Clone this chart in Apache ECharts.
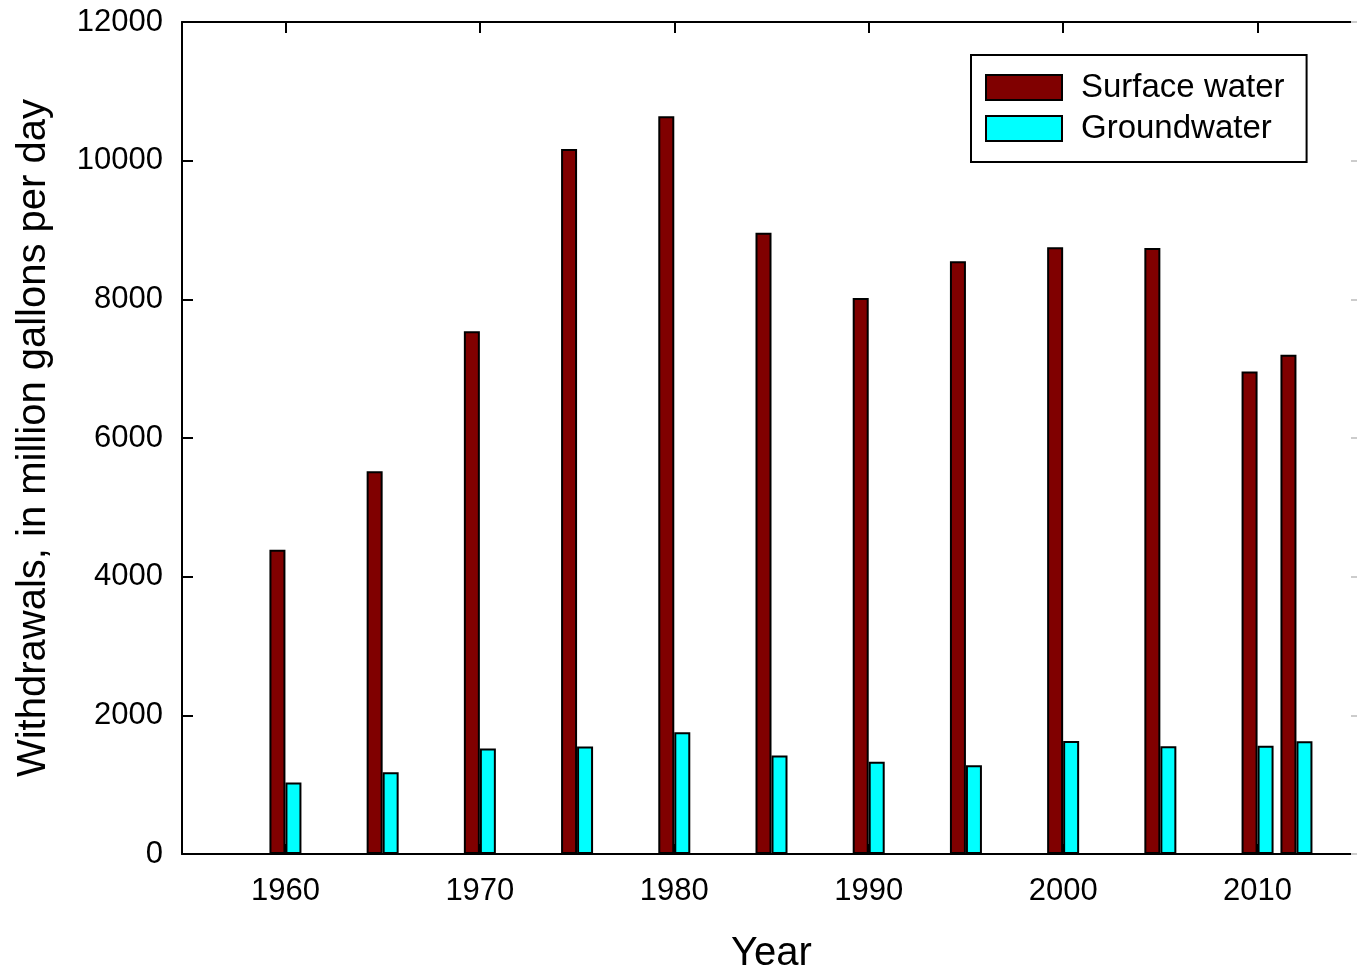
<!DOCTYPE html>
<html><head><meta charset="utf-8">
<script src="https://cdn.jsdelivr.net/npm/echarts@6/dist/echarts.min.js"></script>
<style>html,body{margin:0;padding:0;background:#fff}#c{width:1357px;height:970px}</style>
</head><body><div id="c"></div>
<script>
const years = [1960, 1965, 1970, 1975, 1980, 1985, 1990, 1995, 2000, 2005, 2010, 2012];
const surfaceWater = [4390, 5520, 7540, 10170, 10640, 8960, 8020, 8550, 8750, 8740, 6960, 7200];
const groundwater = [1030, 1180, 1520, 1550, 1755, 1420, 1330, 1280, 1630, 1555, 1560, 1625];
const xTickValues = [1960, 1970, 1980, 1990, 2000, 2010];
const seriesNames = ['Surface water', 'Groundwater'];

const FONT = '"Liberation Sans", Arial, sans-serif';
const X_MIN = 1954.68, X_MAX = 2015.32;

const chart = echarts.init(document.getElementById('c'), null, {renderer: 'canvas'});
const axisLineStyle = {color: '#000', width: 2};
const plain = v => String(Math.round(v));

chart.setOption({
  backgroundColor: '#fff',
  animation: false,
  grid: {left: 182, top: 22, width: 1179, height: 832, containLabel: false, outerBoundsMode: 'none'},
  legend: {
    orient: 'vertical', left: 971, top: 55,
    padding: [16, 22, 17, 14],
    borderColor: '#000', borderWidth: 2, backgroundColor: '#fff',
    itemWidth: 76, itemHeight: 25, itemGap: 8,
    icon: 'rect',
    textStyle: {fontSize: 33, fontFamily: FONT, color: '#000', padding: [0, 0, 0, 14]},
    data: seriesNames
  },
  xAxis: [
    {
      type: 'value', position: 'bottom', min: X_MIN, max: X_MAX,
      axisLine: {show: true, onZero: false, lineStyle: axisLineStyle},
      axisTick: {show: true, inside: true, length: 10, customValues: xTickValues, lineStyle: axisLineStyle},
      axisLabel: {show: true, customValues: xTickValues, formatter: plain, fontSize: 31, fontFamily: FONT, color: '#000', margin: 22},
      splitLine: {show: false},
      name: 'Year', nameLocation: 'middle', nameGap: 80,
      nameTextStyle: {fontSize: 40, fontFamily: FONT, color: '#000'}
    },
    {
      type: 'value', position: 'top', min: X_MIN, max: X_MAX,
      axisLine: {show: true, onZero: false, lineStyle: axisLineStyle},
      axisTick: {show: true, inside: true, length: 11, customValues: xTickValues, lineStyle: axisLineStyle},
      axisLabel: {show: false},
      splitLine: {show: false}
    }
  ],
  yAxis: [
    {
      type: 'value', position: 'left', min: 0, max: 12000, interval: 2000,
      axisLine: {show: true, onZero: false, lineStyle: axisLineStyle},
      axisTick: {show: true, inside: true, length: 11, lineStyle: axisLineStyle},
      axisLabel: {fontSize: 31, fontFamily: FONT, color: '#000', margin: 19, formatter: plain},
      splitLine: {show: false},
      name: 'Withdrawals, in million gallons per day', nameLocation: 'middle', nameGap: 128,
      nameTextStyle: {fontSize: 40, fontFamily: FONT, color: '#000'}
    },
    {
      type: 'value', position: 'right', min: 0, max: 12000, interval: 2000,
      axisLine: {show: true, onZero: false, lineStyle: {color: '#ccc', width: 2}},
      axisTick: {show: true, inside: true, length: 10, lineStyle: {color: '#ccc', width: 2}},
      axisLabel: {show: false},
      splitLine: {show: false}
    }
  ],
  series: [
    {
      name: seriesNames[0], type: 'bar', xAxisIndex: 0, yAxisIndex: 0,
      barWidth: 16, barGap: '0%',
      itemStyle: {color: '#800000', borderColor: '#000', borderWidth: 2},
      data: years.map((y, i) => [y, surfaceWater[i]])
    },
    {
      name: seriesNames[1], type: 'bar', xAxisIndex: 0, yAxisIndex: 0,
      barWidth: 16, barGap: '0%',
      itemStyle: {color: '#00ffff', borderColor: '#000', borderWidth: 2},
      data: years.map((y, i) => [y, groundwater[i]])
    }
  ]
});
</script>
</body></html>
